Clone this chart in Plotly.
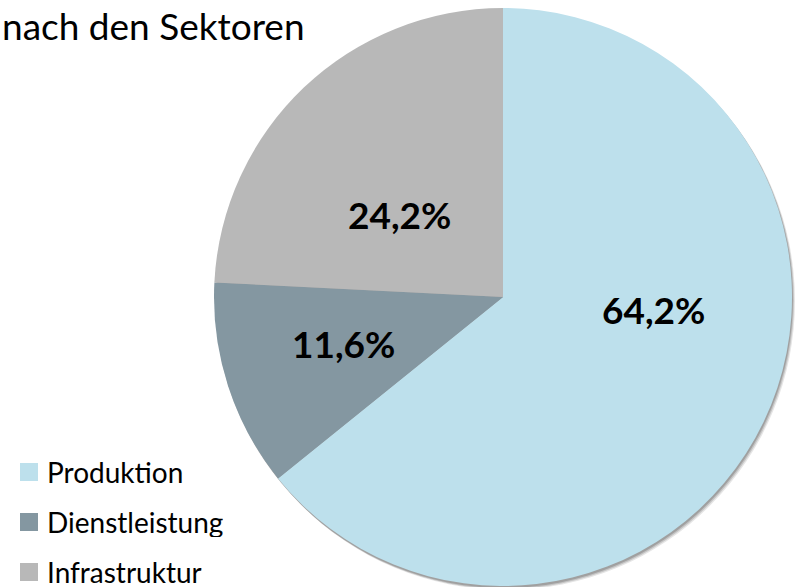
import plotly.graph_objects as go

categories = ["Produktion", "Dienstleistung", "Infrastruktur"]
values = [64.2, 11.6, 24.2]
colors = ["#BDE0EC", "#8497A1", "#B8B8B8"]
title_text = "nach den Sektoren"

W, H = 796, 587
cx, cy, r = 503, 297, 289
# label offsets from pie centre in px (layout, not data)
label_offsets = [(150, 12), (-160, 46), (-103, -82)]


def px(x):
    return x / W


def py(y):
    return 1 - y / H


fig = go.Figure(go.Pie(
    labels=categories,
    values=values,
    sort=False,
    direction="clockwise",
    rotation=0,
    marker=dict(colors=colors, line=dict(width=0)),
    textinfo="none",
    domain=dict(x=[px(cx - r), px(cx + r)], y=[py(cy + r), py(cy - r)]),
    showlegend=False,
    hoverinfo="label+percent",
))

shapes = []
# soft drop shadow behind the pie
for (dx, dy, a) in [(3, 4, 0.10), (2, 3, 0.14), (1, 2, 0.18)]:
    shapes.append(dict(type="circle", xref="paper", yref="paper", layer="below",
                       x0=px(cx - r + dx), x1=px(cx + r + dx),
                       y0=py(cy + r + dy), y1=py(cy - r + dy),
                       fillcolor=f"rgba(0,0,0,{a})", line=dict(width=0)))

annotations = [dict(
    text=title_text, x=0, y=py(1), xref="paper", yref="paper",
    xanchor="left", yanchor="top", showarrow=False,
    font=dict(family="Lato", size=37, color="black"),
)]

for v, (ox, oy) in zip(values, label_offsets):
    annotations.append(dict(
        text=f"{v:.1f}".replace(".", ",") + "%",
        x=px(cx + ox), y=py(cy + oy), xref="paper", yref="paper",
        xanchor="center", yanchor="middle", showarrow=False,
        font=dict(family="Lato", size=37, color="black", weight="bold"),
    ))

row_y = [472, 522, 572]
for name, col, yy in zip(categories, colors, row_y):
    shapes.append(dict(type="rect", xref="paper", yref="paper",
                       x0=px(20), x1=px(38), y0=py(yy + 9), y1=py(yy - 9),
                       fillcolor=col, line=dict(width=0)))
    annotations.append(dict(text=name, x=px(45), y=py(yy), xref="paper", yref="paper",
                            xanchor="left", yanchor="middle", showarrow=False,
                            height=30, valign="middle",
                            font=dict(family="Lato", size=28, color="black")))

fig.update_layout(
    width=W, height=H,
    margin=dict(l=0, r=0, t=0, b=0),
    paper_bgcolor="white",
    plot_bgcolor="white",
    separators=",.",
    shapes=shapes,
    annotations=annotations,
)

fig.write_html("out.html", config={"displayModeBar": False},
               post_script="document.body.style.margin='0';")
